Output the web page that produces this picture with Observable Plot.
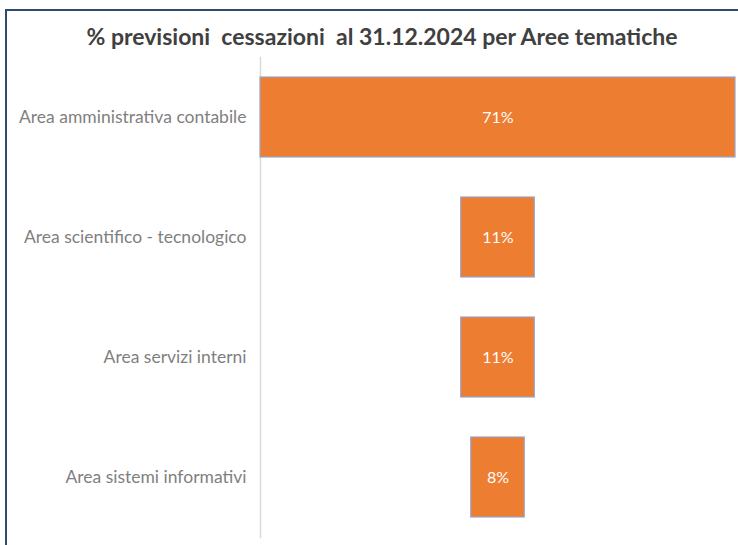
<!DOCTYPE html>
<html><head><meta charset="utf-8">
<script src="https://cdn.jsdelivr.net/npm/d3@7"></script>
<script src="https://cdn.jsdelivr.net/npm/@observablehq/plot@0.6"></script>
<style>
html,body{margin:0;padding:0;background:#fff;width:738px;height:545px;overflow:hidden;}
#wrap{position:relative;width:738px;height:545px;}
#frame{position:absolute;left:5px;top:9px;width:800px;height:600px;border-left:2px solid #2f4a6e;border-top:2px solid #2f4a6e;box-sizing:border-box;}
#title{position:absolute;left:0;top:22px;width:764px;text-align:center;font-family:Lato,"Open Sans",sans-serif;font-weight:bold;font-size:23px;line-height:28px;color:#404040;white-space:pre;}
#chart{position:absolute;left:0;top:50px;}
</style></head>
<body><div id="wrap"><div id="frame"></div><div id="title">% previsioni  cessazioni  al 31.12.2024 per Aree tematiche</div><div id="chart"></div></div>
<script>
const categories = ["Area amministrativa contabile","Area scientifico - tecnologico","Area servizi interni","Area sistemi informativi"];
const values = [71, 11, 11, 8];
const labels = ["71%","11%","11%","8%"];
const data = categories.map((c,i)=>({area:c, value:values[i], label:labels[i]}));
const maxV = d3.max(values);
const chart = Plot.plot({
  width: 738, height: 495,
  marginLeft: 260, marginRight: 3, marginTop: 7, marginBottom: 8,
  style: {fontFamily: "Lato, 'Open Sans', sans-serif", background: "transparent"},
  x: {domain: [-maxV/2, maxV/2], axis: null},
  y: {domain: categories, paddingInner: 0.333, paddingOuter: 0.1665, label: null},
  marks: [
    Plot.frame({anchor: "left", stroke: "#d9d9d9", strokeWidth: 1.5}),
    Plot.barX(data, {y: "area", x1: d => -d.value/2, x2: d => d.value/2, fill: "#ed7d31", stroke: "#9aa6c8", strokeWidth: 1.2}),
    Plot.text(data, {y: "area", x: 0, text: "label", fill: "#ffffff", fontSize: 16}),
    Plot.axisY({tickSize: 0, tickPadding: 14, fontSize: 17.5, fill: "#7f7f7f", label: null})
  ]
});
document.getElementById("chart").appendChild(chart);
</script></body></html>
